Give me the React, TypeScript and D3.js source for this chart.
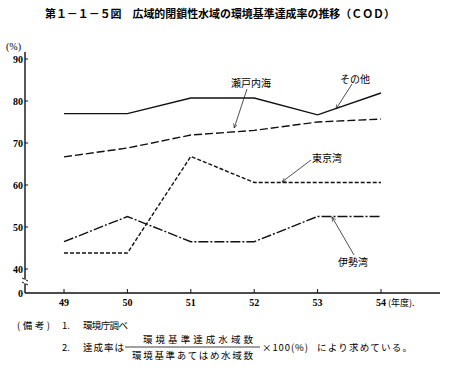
import React, { useEffect, useRef } from 'react';
import * as d3 from 'd3';

const years = ['49', '50', '51', '52', '53', '54'];
const yTicks = [40, 50, 60, 70, 80, 90];
const sonota = [77, 77, 80.7, 80.7, 76.7, 81.9];
const setonaikai = [66.7, 68.8, 71.9, 73, 75, 75.7];
const tokyowan = [43.8, 43.8, 66.8, 60.6, 60.6, 60.6];
const isewan = [46.5, 52.5, 46.5, 46.5, 52.5, 52.5];

const series = [
  { name: 'その他', values: sonota, dash: null },
  { name: '瀬戸内海', values: setonaikai, dash: '8,3' },
  { name: '東京湾', values: tokyowan, dash: '4,2' },
  { name: '伊勢湾', values: isewan, dash: '10,2,2,2' },
];

const JP = '"Noto Sans CJK JP", sans-serif';
const NUM = '"Liberation Serif", "DejaVu Serif", serif';

const App = () => {
  const ref = useRef<SVGSVGElement>(null);

  useEffect(() => {
    const svg = d3.select(ref.current);
    svg.selectAll('*').remove();

    const x = d3.scalePoint().domain(years).range([64, 381]);
    // broken axis: 0 sits just below 40
    const y = d3.scaleLinear().domain([0, 40, 90]).range([293, 269, 59]);
    const x0 = 25;

    svg.append('text').attr('x', 45).attr('y', 18)
      .attr('font-family', JP).attr('font-size', 11).attr('font-weight', 'bold')
      .attr('textLength', 350).attr('lengthAdjust', 'spacingAndGlyphs')
      .text('第１－１－５図　広域的閉鎖性水域の環境基準達成率の推移（ＣＯＤ）');

    // y axis
    svg.append('line').attr('x1', x0).attr('x2', x0).attr('y1', 52).attr('y2', y(0))
      .attr('stroke', '#111').attr('stroke-width', 1.4);
    svg.append('path').attr('d', `M${x0 - 3},${278} L${x0 + 3},${281} M${x0 - 3},${282} L${x0 + 3},${285}`)
      .attr('stroke', '#111').attr('stroke-width', 1);
    svg.append('rect').attr('x', x0 - 1).attr('y', 279.5).attr('width', 2).attr('height', 4).attr('fill', '#fff');
    svg.selectAll('.yt').data(yTicks).enter().append('line')
      .attr('x1', x0).attr('x2', x0 + 3).attr('y1', d => y(d)).attr('y2', d => y(d))
      .attr('stroke', '#111');
    svg.selectAll('.yl').data(yTicks).enter().append('text')
      .attr('x', x0 - 2).attr('y', d => y(d) + 4).attr('text-anchor', 'end')
      .attr('font-family', NUM).attr('font-size', 10).attr('font-weight', 'bold')
      .text(d => d);
    svg.append('text').attr('x', x0 - 2).attr('y', y(0) + 4).attr('text-anchor', 'end')
      .attr('font-family', NUM).attr('font-size', 10).attr('font-weight', 'bold').text('0');
    svg.append('text').attr('x', 6).attr('y', 50)
      .attr('font-family', NUM).attr('font-size', 10).text('(%)');

    // x axis
    svg.append('line').attr('x1', x0).attr('x2', 440).attr('y1', y(0)).attr('y2', y(0))
      .attr('stroke', '#111').attr('stroke-width', 1.4);
    svg.selectAll('.xt').data(years).enter().append('line')
      .attr('x1', d => x(d)!).attr('x2', d => x(d)!).attr('y1', y(0)).attr('y2', y(0) - 4)
      .attr('stroke', '#111');
    svg.selectAll('.xl').data(years).enter().append('text')
      .attr('x', d => x(d)!).attr('y', y(0) + 13).attr('text-anchor', 'middle')
      .attr('font-family', NUM).attr('font-size', 10).attr('font-weight', 'bold')
      .text(d => d);
    svg.append('text').attr('x', x('54')! + 7).attr('y', y(0) + 13)
      .attr('font-family', JP).attr('font-size', 9).text('(年度).');

    const line = d3.line<number>().x((d, i) => x(years[i])!).y(d => y(d));
    series.forEach(s => {
      svg.append('path').attr('d', line(s.values)).attr('fill', 'none')
        .attr('stroke', '#111').attr('stroke-width', 1.4)
        .attr('stroke-dasharray', s.dash);
    });

    // labels and leaders
    const labels = [
      { t: '瀬戸内海', x: 251, y: 87, lx1: 247, ly1: 89, lx2: x('52')! - 20, ly2: 128 },
      { t: 'その他', x: 355, y: 83, lx1: 352, ly1: 84, lx2: 336, ly2: 109 },
      { t: '東京湾', x: 327, y: 162, lx1: 311, ly1: 160, lx2: 282, ly2: 182 },
      { t: '伊勢湾', x: 353, y: 266, lx1: 354, ly1: 255, lx2: 332, ly2: 217 },
    ];
    const defs = svg.append('defs');
    defs.append('marker').attr('id', 'arr').attr('viewBox', '0 0 10 10')
      .attr('refX', 9).attr('refY', 5).attr('markerWidth', 6).attr('markerHeight', 6)
      .attr('orient', 'auto')
      .append('path').attr('d', 'M0,1 L9,5 L0,9').attr('fill', 'none').attr('stroke', '#111').attr('stroke-width', 1.2);
    labels.forEach(l => {
      svg.append('text').attr('x', l.x).attr('y', l.y).attr('text-anchor', 'middle')
        .attr('font-family', JP).attr('font-size', 10).text(l.t);
      svg.append('line').attr('x1', l.lx1).attr('y1', l.ly1).attr('x2', l.lx2).attr('y2', l.ly2)
        .attr('stroke', '#222').attr('stroke-width', 0.8).attr('marker-end', 'url(#arr)');
    });

    // notes
    const note = (t: string, xx: number, yy: number, len?: number) => {
      const n = svg.append('text').attr('x', xx).attr('y', yy)
        .attr('font-family', JP).attr('font-size', 9.5).text(t);
      if (len) n.attr('textLength', len).attr('lengthAdjust', 'spacing');
      return n;
    };
    note('(備考)', 17, 329, 33);
    note('1.', 62, 329);
    note('環境庁調べ', 83, 329, 45);
    note('2.', 62, 351);
    note('達成率は', 83, 351, 41);
    note('環境基準達成水域数', 143, 343, 110);
    svg.append('line').attr('x1', 125).attr('x2', 260).attr('y1', 347).attr('y2', 347)
      .attr('stroke', '#111').attr('stroke-width', 0.8);
    note('環境基準あてはめ水域数', 132, 359, 121);
    note('×100(%)', 262, 351, 46);
    note('により求めている。', 317, 351, 95);
  }, []);

  return (
    <svg ref={ref} width={451} height={368}
      style={{ position: 'absolute', left: 0, top: 0, background: '#fff' }} />
  );
};

export default App;
